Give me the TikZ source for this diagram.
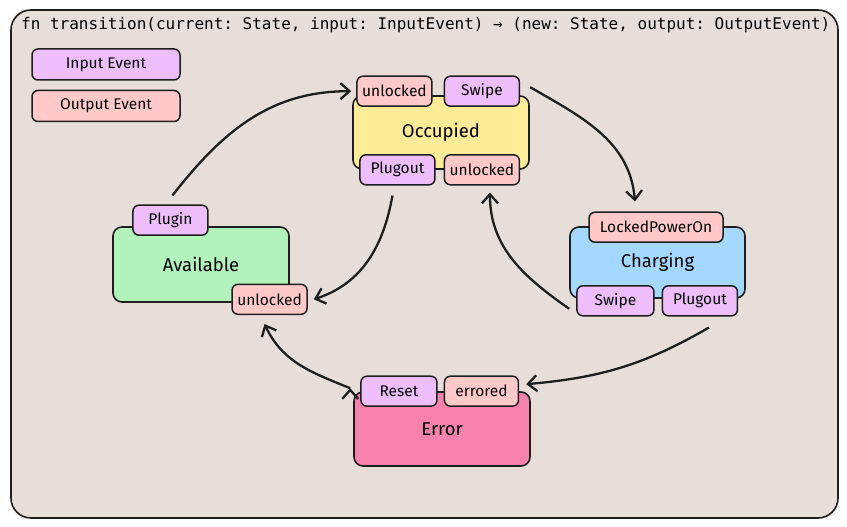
\documentclass[tikz,border=0pt]{standalone}
\usepackage{fontspec}
\setmainfont{Fira Sans}
\setmonofont{DejaVu Sans Mono}
\usetikzlibrary{arrows.meta,positioning}

\definecolor{framebg}{RGB}{232,222,217}
\definecolor{inevent}{HTML}{EEBEFA}
\definecolor{outevent}{HTML}{FFC9C9}
\definecolor{occfill}{HTML}{FFEC99}
\definecolor{avfill}{HTML}{B2F2BB}
\definecolor{chgfill}{HTML}{A5D8FF}
\definecolor{errfill}{HTML}{F783AC}
\definecolor{ink}{HTML}{1E1E1E}

\tikzset{
  statebox/.style={draw=ink,line width=1.6pt,rounded corners=9pt,minimum width=176pt,inner sep=0pt,font=\fontsize{18.5}{20}\selectfont},
  badge/.style={draw=ink,line width=1.5pt,rounded corners=6pt,minimum width=75pt,minimum height=30pt,inner sep=3pt,font=\fontsize{15.5}{17}\selectfont},
  inbadge/.style={badge,fill=inevent},
  outbadge/.style={badge,fill=outevent},
}

\begin{document}
\begin{tikzpicture}[x=1pt,y=1pt,>={Straight Barb[length=9pt,width=16pt]},node distance=8pt]
	\useasboundingbox (0,0) rectangle (847,527);
	\draw[draw=ink,fill=framebg,line width=1.6pt,rounded corners=20pt] (11,9) rectangle (838,517);
	\node[anchor=west,font=\ttfamily\fontsize{16}{18}\selectfont,inner xsep=2pt] (sig) at (19,502) {fn transition(current: State, input: InputEvent) → (new: State, output: OutputEvent)};

	% legend
	\node[inbadge,minimum width=148pt,minimum height=31pt] (leg_in) at (106,462.5) {Input Event};
	\node[outbadge,minimum width=148pt,minimum height=31pt] [below=9pt of leg_in] (leg_out) {Output Event};

	% states
	\node[statebox,fill=occfill,minimum height=73pt] (occ) at (441,394.5) {Occupied};
	\node[statebox,fill=avfill,minimum height=75pt] (av) at (201,262.5) {Available};
	\node[statebox,fill=chgfill,minimum width=175pt,minimum height=71pt] (chg) at (657.5,264.5) {Charging};
	\node[statebox,fill=errfill,minimum height=74pt] (err) at (442,98) {Error};

	% events on the states
	\node[outbadge,anchor=west] (occ_unl_in) at ([xshift=4pt,yshift=4pt]occ.north west) {unlocked};
	\node[inbadge] [right=11pt of occ_unl_in] (occ_swipe) {Swipe};
	\node[inbadge,anchor=west] (occ_plugout) at ([xshift=7pt]occ.south west) {Plugout};
	\node[outbadge] [right=8pt of occ_plugout] (occ_unl_out) {unlocked};

	\node[inbadge,anchor=west] (av_plugin) at ([xshift=20pt,yshift=6pt]av.north west) {Plugin};
	\node[outbadge,anchor=east] (av_unl) at ([xshift=18pt,yshift=3.5pt]av.south east) {unlocked};

	\node[outbadge,minimum width=134pt] (chg_locked) at ([xshift=-1.5pt,yshift=-1pt]chg.north) {LockedPowerOn};
	\node[inbadge,anchor=west,minimum width=77pt] (chg_swipe) at ([xshift=7pt,yshift=-2pt]chg.south west) {Swipe};
	\node[inbadge] [right=7pt of chg_swipe] (chg_plugout) {Plugout};

	\node[inbadge,anchor=west,minimum width=76pt] (err_reset) at ([xshift=7pt]err.north west) {Reset};
	\node[outbadge,minimum width=74pt] [right=6pt of err_reset] (err_errored) {errored};

	% transitions
	\path[->,draw=ink,line width=2.3pt]
		([xshift=2pt,yshift=9pt]av_plugin.north) edge [out=52,in=180] ([xshift=-5pt]occ_unl_in.west)
		([xshift=10pt,yshift=4pt]occ_swipe.east) edge [out=-30,in=95] ([xshift=-21pt,yshift=10pt]chg_locked.north)
		([xshift=-7pt,yshift=-8pt]chg_swipe.west) edge [out=145,in=-90] ([xshift=8pt,yshift=-7pt]occ_unl_out.south)
		([xshift=-5pt,yshift=-10pt]occ_plugout.south) edge [out=-100,in=18] ([xshift=6pt]av_unl.east)
		([xshift=9pt,yshift=-11pt]chg_plugout.south) edge [out=210,in=5] ([xshift=7pt,yshift=7pt]err_errored.east)
		([xshift=-10pt,yshift=3pt]err_reset.west) edge [out=158,in=-65] ([xshift=-5pt,yshift=-9pt]av_unl.south);
\end{tikzpicture}
\end{document}
